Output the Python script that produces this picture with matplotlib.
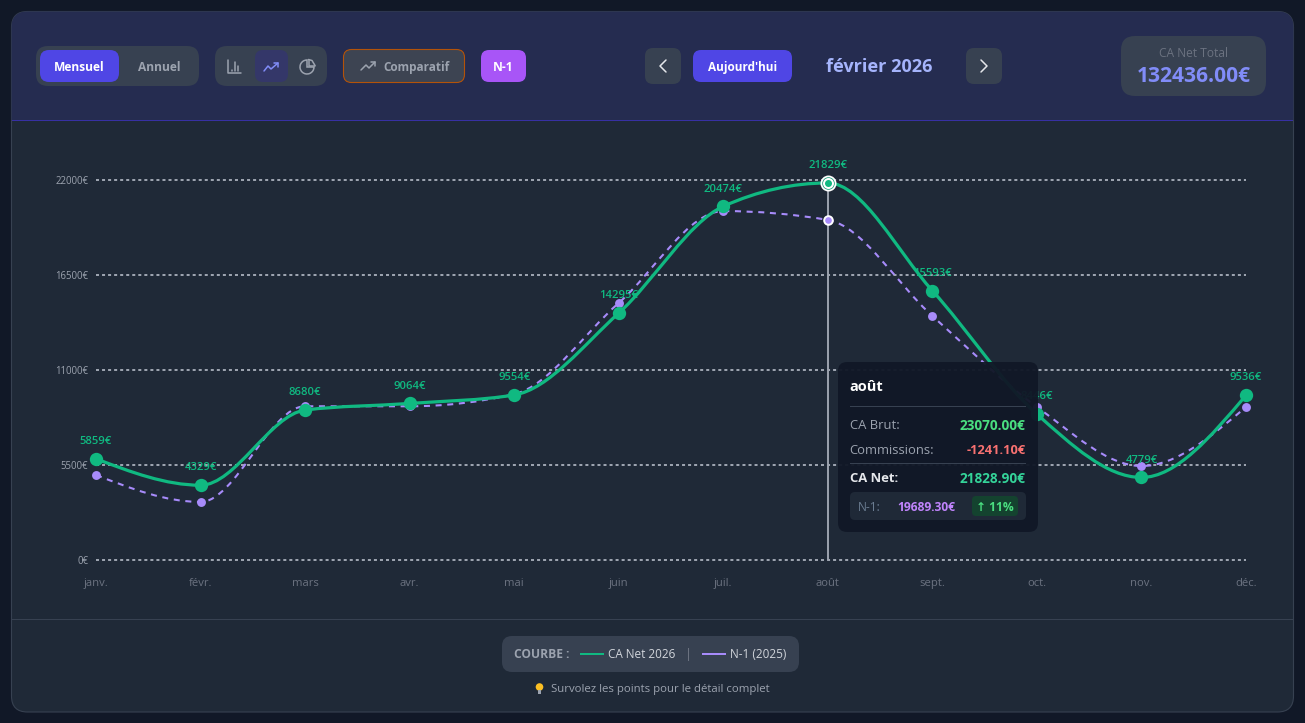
import numpy as np
import matplotlib
matplotlib.use("Agg")
import matplotlib.pyplot as plt
from matplotlib.patches import FancyBboxPatch, Rectangle, Circle, PathPatch, Wedge
from matplotlib.path import Path

months = ["janv.", "févr.", "mars", "avr.", "mai", "juin", "juil.", "août", "sept.", "oct.", "nov.", "déc."]
ca_net = [5859, 4329, 8680, 9064, 9554, 14295, 20474, 21829, 15593, 8446, 4779, 9536]
n1 = [4920, 3360, 8900, 8900, 9600, 14880, 20200, 19689, 14130, 8860, 5440, 8860]
yticks = [0, 5500, 11000, 16500, 22000]

GREEN = "#10b981"
PURPLE = "#a78bfa"
FONT = ["Open Sans", "DejaVu Sans"]
plt.rcParams["font.family"] = FONT

W, H = 1305, 723
fig = plt.figure(figsize=(W / 100, H / 100), dpi=100, facecolor="#111827")


def layer(z):
    a = fig.add_axes([0, 0, 1, 1], zorder=z)
    a.set_xlim(0, W)
    a.set_ylim(H, 0)
    a.axis("off")
    a.patch.set_alpha(0)
    return a


bg = layer(0)
top = layer(5)


def box(a, x0, y0, x1, y1, r, fc, ec="none", lw=0, alpha=None, z=2):
    p = FancyBboxPatch((x0, y0), x1 - x0, y1 - y0, boxstyle=f"round,pad=0,rounding_size={r}",
                       fc=fc, ec=ec, lw=lw, alpha=alpha, zorder=z)
    a.add_patch(p)
    return p


def txt(a, x, y, s, px, color, weight="normal", ha="center", z=6, **kw):
    return a.text(x, y + 0.8, s, fontsize=px * 0.72, color=color, fontweight=weight, ha=ha, va="center", zorder=z, **kw)


def poly(a, pts, color, lw=1.1, z=6):
    xs, ys = zip(*pts)
    a.plot(xs, ys, color=color, lw=lw, zorder=z, solid_capstyle="round", solid_joinstyle="round")


# page and card
bg.add_patch(Rectangle((0, 0), W, H, fc="#111827", ec="none", zorder=0))
card = box(bg, 11.5, 11.5, 1293.5, 712, 16, "#1f2937", ec="#374151", lw=0.8, z=1)
hdr = Rectangle((11, 11), 1283, 109, fc="#252c50", ec="none", zorder=1.5)
bg.add_patch(hdr)
hdr.set_clip_path(card)
bg.add_patch(Rectangle((12, 120), 1281, 1, fc="#3730a3", ec="none", zorder=1.6))
bg.add_patch(Rectangle((12, 619), 1281, 1, fc="#374151", ec="none", zorder=1.6))

# header controls
box(bg, 36, 46, 199, 86, 12, "#374151")
box(bg, 40, 50, 119, 82, 9, "#4f46e5")
txt(bg, 79.5, 66.5, "Mensuel", 12, "white", "bold")
txt(bg, 159.5, 66.5, "Annuel", 12, "#9ca3af", "bold")

box(bg, 215, 46, 327, 86, 12, "#374151")
box(bg, 255, 50, 288, 82, 8, "#343769")
poly(bg, [(228, 60), (228, 73), (241, 73)], "#9ca3af")
for x, y in [(232, 70), (235, 62), (238, 66)]:
    poly(bg, [(x, 71), (x, y)], "#9ca3af")
poly(bg, [(264, 71), (268, 66), (271, 69), (278, 63)], "#818cf8")
poly(bg, [(274, 63), (278, 63), (278, 67)], "#818cf8")
bg.add_patch(Wedge((307, 67), 7, 0, 270, fc="none", ec="#9ca3af", lw=1.1, zorder=6))
poly(bg, [(308.5, 59.5), (308.5, 65.5), (315, 65.5)], "#9ca3af")
poly(bg, [(308.5, 59.5), (312, 60.5), (315, 65.5)], "#9ca3af")

box(bg, 343.5, 49.5, 464.5, 82.5, 8, "#3d4452", ec="#b45309", lw=0.8)
poly(bg, [(361, 70), (366, 65), (369, 68), (375, 62)], "#9ca3af")
poly(bg, [(371, 62), (375, 62), (375, 66)], "#9ca3af")
txt(bg, 416, 66.5, "Comparatif", 11.7, "#9ca3af", "bold")
box(bg, 481, 50, 526, 82, 8, "#a855f7")
txt(bg, 503.5, 66.5, "N-1", 12, "white", "bold")

box(bg, 645, 48, 681, 84, 8, "#374151")
poly(bg, [(666, 60), (660, 66), (666, 72)], "#e5e7eb", 1.1)
box(bg, 693, 50, 792, 82, 8, "#4f46e5")
txt(bg, 742.5, 66.5, "Aujourd'hui", 11.7, "white", "bold")
txt(bg, 879.5, 66, "février 2026", 18.2, "#a5b4fc", "bold")
box(bg, 966, 48, 1002, 84, 8, "#374151")
poly(bg, [(981, 60), (987, 66), (981, 72)], "#e5e7eb", 1.1)

box(bg, 1121, 36, 1266, 96, 14, "#374151")
txt(bg, 1193.5, 52.5, "CA Net Total", 12, "#6b7280")
txt(bg, 1193.5, 75.5, "132436.00€", 21, "#818cf8", "bold")

# chart
X0, X1, Y0, Y1 = 96, 1246, 560, 180
ax = fig.add_axes([X0 / W, 1 - Y0 / H, (X1 - X0) / W, (Y0 - Y1) / H], zorder=2)
ax.patch.set_alpha(0)
ax.set_xlim(0, 11)
ax.set_ylim(0, 22000)
for s in ax.spines.values():
    s.set_visible(False)
xs = np.arange(len(months))
ax.set_xticks(xs, months)
ax.set_yticks(yticks, [f"{v}€" for v in yticks])
ax.tick_params(axis="x", length=0, pad=13, labelsize=8.1, labelcolor="#6b7280")
ax.tick_params(axis="y", length=0, pad=5.5, labelsize=6.9, labelcolor="#9ca3af")
ax.grid(axis="y", color="#9ca3af", lw=1.45, dashes=(1.5, 1.5), clip_on=False)
ax.set_axisbelow(True)


def monotone_path(x, y):
    """d3 curveMonotoneX as cubic Bezier segments."""
    x = np.asarray(x, float)
    y = np.asarray(y, float)
    h = np.diff(x)
    s = np.diff(y) / h
    t = np.zeros_like(y)
    for i in range(1, len(y) - 1):
        p = (s[i - 1] * h[i] + s[i] * h[i - 1]) / (h[i - 1] + h[i])
        t[i] = (np.sign(s[i - 1]) + np.sign(s[i])) * min(abs(s[i - 1]), abs(s[i]), 0.5 * abs(p))
    t[0] = (3 * s[0] - t[1]) / 2
    t[-1] = (3 * s[-1] - t[-2]) / 2
    verts = [(x[0], y[0])]
    codes = [Path.MOVETO]
    for i in range(len(h)):
        d = h[i] / 3
        verts += [(x[i] + d, y[i] + t[i] * d), (x[i + 1] - d, y[i + 1] - t[i + 1] * d), (x[i + 1], y[i + 1])]
        codes += [Path.CURVE4] * 3
    return Path(verts, codes)


ax.add_patch(PathPatch(monotone_path(xs, n1), fc="none", ec=PURPLE, lw=1.5, ls=(0, (2.9, 2.7)), zorder=3, clip_on=False))
ax.plot(xs, n1, ls="none", marker="o", ms=6.4, mfc=PURPLE, mec="none", zorder=3.5, clip_on=False)
ax.add_patch(PathPatch(monotone_path(xs, ca_net), fc="none", ec=GREEN, lw=2.3, zorder=4, clip_on=False))
ax.plot(xs, ca_net, ls="none", marker="o", ms=9.6, mfc=GREEN, mec="none", zorder=4.5, clip_on=False)

for x, v in zip(xs, ca_net):
    ax.annotate(f"{v}€", (x, v), xytext=(0, 8.5), textcoords="offset points", ha="center", va="bottom",
                fontsize=8.1, color=GREEN, fontweight="semibold", zorder=5, annotation_clip=False)

# active month
k = months.index("août")
ax.plot([k, k], [0, ca_net[k]], color="#9ca3af", lw=1.4, zorder=2.5)
ax.plot([k], [n1[k]], ls="none", marker="o", ms=6.2, mfc=PURPLE, mec="white", mew=1.4, zorder=6, clip_on=False)
for diam, col in [(16, "white"), (12.5, "#159a76"), (11, "white"), (7, GREEN)]:
    ax.plot([k], [ca_net[k]], ls="none", marker="o", ms=diam * 0.72, mfc=col, mec="none", zorder=6, clip_on=False)

# tooltip
box(top, 838, 362, 1038, 532, 9, "#111827", alpha=0.96, z=1)
txt(top, 849.5, 386.5, "août", 14.5, "white", "bold", ha="left")
top.add_patch(Rectangle((850, 406), 176, 1, fc="#374151", ec="none", zorder=3))
txt(top, 849.5, 425, "CA Brut:", 13, "#9ca3af", ha="left")
txt(top, 1025.5, 425, "23070.00€", 13.6, "#4ade80", "bold", ha="right")
txt(top, 849.5, 449.5, "Commissions:", 13, "#9ca3af", ha="left")
txt(top, 1025.5, 449.5, "-1241.10€", 12.8, "#f87171", "bold", ha="right")
top.add_patch(Rectangle((850, 463), 176, 1, fc="#374151", ec="none", zorder=3))
txt(top, 849.5, 478, "CA Net:", 13, "#e5e7eb", "bold", ha="left")
txt(top, 1025.5, 478, "21828.90€", 13.6, "#34d399", "bold", ha="right")
box(top, 850, 492, 1026, 520, 5, "#1f2937", z=3)
txt(top, 857.5, 506.5, "N-1:", 12, "#6b7d92", ha="left")
txt(top, 926, 506.5, "19689.30€", 12, "#c084fc", "bold")
box(top, 972, 496, 1018, 516, 4, "#14432f", z=4)
txt(top, 995, 506.5, "↑ 11%", 12, "#4ade80", "bold")

# legend
box(bg, 502, 636, 799, 672, 10, "#374151")
txt(bg, 514, 654, "COURBE :", 12, "#9ca3af", "bold", ha="left")
bg.add_patch(Rectangle((580, 653), 24, 2, fc=GREEN, ec="none", zorder=6))
txt(bg, 608, 654, "CA Net 2026", 11.8, "#d1d5db", ha="left")
bg.add_patch(Rectangle((688, 648), 1, 13, fc="#6b7280", ec="none", zorder=6))
bg.add_patch(Rectangle((702, 653), 24, 2, fc=PURPLE, ec="none", zorder=6))
txt(bg, 730, 654, "N-1 (2025)", 11.8, "#d1d5db", ha="left")
bg.add_patch(Circle((539.5, 687), 3.8, fc="#fbbf24", ec="none", zorder=6))
bg.add_patch(Rectangle((537.8, 690), 3.5, 3.5, fc="#9ca3af", ec="none", zorder=6))
txt(bg, 551, 688.5, "Survolez les points pour le détail complet", 11.4, "#9ca3af", ha="left")

fig.savefig("out.png", dpi=100, facecolor=fig.get_facecolor())
